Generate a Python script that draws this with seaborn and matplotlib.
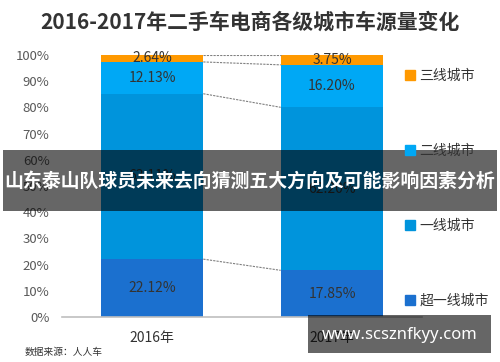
import matplotlib
matplotlib.use('Agg')
import matplotlib.pyplot as plt
from matplotlib.patches import Patch, Rectangle
import pandas as pd
import seaborn as sns

# 数据
years = ['2016年', '2017年']
tiers = ['超一线城市', '一线城市', '二线城市', '三线城市']
share_2016 = [22.12, 63.11, 12.13, 2.64]
share_2017 = [17.85, 62.20, 16.20, 3.75]
tier_colors = ['#1B70CF', '#0094DC', '#00A8F5', '#FF9900']

sns.set_theme(style='white')
plt.rcParams['font.family'] = ['Noto Sans CJK SC', 'DejaVu Sans']

rows = []
for tier, a, b in zip(tiers, share_2016, share_2017):
    rows.append({'year': years[0], 'tier': tier, 'share': a})
    rows.append({'year': years[1], 'tier': tier, 'share': b})
df = pd.DataFrame(rows)
df['tier'] = pd.Categorical(df['tier'], tiers, ordered=True)
df = df.sort_values(['year', 'tier'])
df['top'] = df.groupby('year')['share'].cumsum()
df['mid'] = df['top'] - df['share'] / 2

fig = plt.figure(figsize=(5, 3.62), dpi=100)
ax = fig.add_axes([0.124, 0.124, 0.72, 0.724])

bar_w = 0.57
# 累计高度从上往下画，叠出堆积柱
for tier, col in reversed(list(zip(tiers, tier_colors))):
    sub = df[df['tier'] == tier]
    sns.barplot(data=sub, x='year', y='top', order=years, color=col,
                saturation=1, width=bar_w, ax=ax, errorbar=None, linewidth=0)

# 数值标签
for i, yr in enumerate(years):
    sub = df[df['year'] == yr]
    for _, r in sub.iterrows():
        ax.text(i, r['mid'], '{:.2f}%'.format(r['share']), ha='center', va='center',
                fontsize=10, color='#333333')

# 柱间虚线
tops16 = list(df[df['year'] == years[0]]['top'])
tops17 = list(df[df['year'] == years[1]]['top'])
for a, b in zip(tops16, tops17):
    ax.plot([bar_w / 2, 1 - bar_w / 2], [a, b], ls=(0, (2, 1)), lw=0.8, color='#808080')

ax.set_xlim(-0.5, 1.5)
ax.set_ylim(0, 100)
ax.set_yticks(range(0, 101, 10))
ax.set_yticklabels(['{}%'.format(v) for v in range(0, 101, 10)])
ax.tick_params(axis='y', labelsize=9.5, labelcolor='#595959', length=0, pad=9)
ax.tick_params(axis='x', labelsize=10, labelcolor='#333333', length=0, pad=10)
ax.set_xlabel('')
ax.set_ylabel('')
for s in ['top', 'right', 'left']:
    ax.spines[s].set_visible(False)
ax.spines['bottom'].set_color('#BFBFBF')
ax.spines['bottom'].set_linewidth(1.2)

handles = [Patch(color=c, label=t) for t, c in reversed(list(zip(tiers, tier_colors)))]
fig.legend(handles=handles, loc='upper left', bbox_to_anchor=(0.785, 0.845),
           frameon=False, fontsize=10, handlelength=0.7, handleheight=0.7,
           handletextpad=0.35, labelspacing=4.4, labelcolor='#333333')

fig.text(0.5, 0.94, '2016-2017年二手车电商各级城市车源量变化', ha='center', va='center',
         fontsize=15, fontweight='bold', color='#333333')
fig.text(0.05, 0.027, '数据来源：人人车', ha='left', va='center', fontsize=7, color='#333333')

# 覆盖横幅与水印
fig.add_artist(Rectangle((0.006, 1 - 211 / 362), 0.988, 61 / 362, transform=fig.transFigure,
                         facecolor='black', alpha=0.6, edgecolor='none', zorder=5))
fig.text(0.5, 1 - 181 / 362, '山东泰山队球员未来去向猜测五大方向及可能影响因素分析', ha='center',
         va='center', fontsize=13.6, fontweight='bold', color='white', zorder=6)
fig.add_artist(Rectangle((308 / 500, 1 - 353 / 362), 183 / 500, 38 / 362, transform=fig.transFigure,
                         facecolor='black', alpha=0.6, edgecolor='none', zorder=5))
fig.text(400 / 500, 1 - 335 / 362, 'www.scsznfkyy.com', ha='center', va='center',
         fontsize=12, fontweight='bold', color='white', zorder=6, family=['Noto Sans', 'DejaVu Sans'])

plt.savefig('out.png', dpi=100)
